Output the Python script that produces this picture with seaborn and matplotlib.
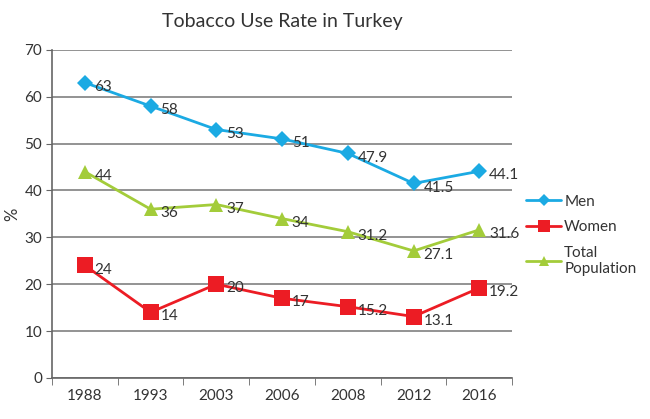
import matplotlib
matplotlib.use("Agg")
import matplotlib.pyplot as plt
import seaborn as sns
import pandas as pd

years = ["1988", "1993", "2003", "2006", "2008", "2012", "2016"]
men = [63, 58, 53, 51, 47.9, 41.5, 44.1]
women = [24, 14, 20, 17, 15.2, 13.1, 19.2]
total = [44, 36, 37, 34, 31.2, 27.1, 31.6]
labels_men = ["63", "58", "53", "51", "47.9", "41.5", "44.1"]
labels_women = ["24", "14", "20", "17", "15.2", "13.1", "19.2"]
labels_total = ["44", "36", "37", "34", "31.2", "27.1", "31.6"]

series = ["Men", "Women", "Total\nPopulation"]
colors = {"Men": "#1BAAE3", "Women": "#EC1C24", "Total\nPopulation": "#A3CC3A"}
markers = {"Men": "D", "Women": "s", "Total\nPopulation": "^"}
sizes = {"Men": 8, "Women": 11, "Total\nPopulation": 10}

df = pd.concat([
    pd.DataFrame({"year": years, "value": men, "group": "Men", "label": labels_men}),
    pd.DataFrame({"year": years, "value": women, "group": "Women", "label": labels_women}),
    pd.DataFrame({"year": years, "value": total, "group": "Total\nPopulation", "label": labels_total}),
])

sns.set_style("white")
plt.rcParams["font.family"] = ["Lato", "DejaVu Sans"]
text_col = "#333333"

fig = plt.figure(figsize=(6.5, 4.19), dpi=100)
ax = fig.add_axes([0.08, 0.098, 0.708, 0.783])

for name in series:
    sub = df[df["group"] == name]
    sns.lineplot(data=sub, x="year", y="value", ax=ax, color=colors[name],
                 marker=markers[name], markersize=sizes[name], markeredgewidth=0,
                 linewidth=2, label=name, sort=False, zorder=3)
    for i, (v, t) in enumerate(zip(sub["value"], sub["label"])):
        ax.annotate(t, (i, v), xytext=(7, -3), textcoords="offset points",
                    fontsize=11, color=text_col, va="center", ha="left")

ax.set_ylim(0, 70)
ax.set_xlim(-0.5, 6.5)
ax.set_yticks(range(0, 71, 10))
ax.yaxis.grid(True, color="#808080", linewidth=1.2)
ax.set_axisbelow(True)
for s in ["top", "right"]:
    ax.spines[s].set_visible(False)
for s in ["left", "bottom"]:
    ax.spines[s].set_color("#666666")
    ax.spines[s].set_linewidth(1.2)

ax.set_xticks(range(7))
ax.set_xticklabels(years)
ax.set_xticks([i + 0.5 for i in range(-1, 7)], minor=True)
ax.tick_params(axis="x", which="major", length=0, pad=8, labelsize=11, labelcolor=text_col)
ax.tick_params(axis="x", which="minor", length=5, direction="out", color="#666666", bottom=True)
ax.tick_params(axis="y", length=4, direction="out", color="#666666", left=True,
               labelsize=11, labelcolor=text_col, pad=3)

ax.set_xlabel("")
ax.set_ylabel("%", fontsize=12, color=text_col, labelpad=3)
fig.suptitle("Tobacco Use Rate in Turkey", x=0.435, y=0.97, fontsize=14, color=text_col)

ax.legend(loc="upper left", bbox_to_anchor=(1.0, 0.6), frameon=False, fontsize=11,
          markerscale=0.75, handlelength=2.3, handletextpad=0.2, labelspacing=0.75,
          labelcolor=text_col)

fig.savefig("out.png", dpi=100)
